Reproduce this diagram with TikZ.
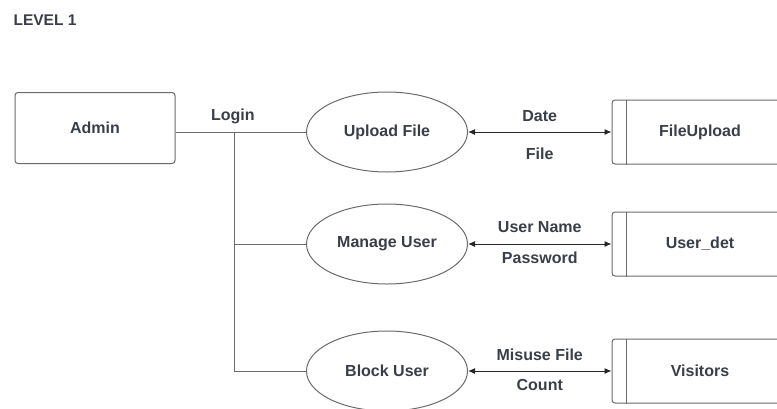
\documentclass[tikz,border=0pt]{standalone}
\usepackage{fontspec}
\setmainfont{Liberation Sans}
\usetikzlibrary{shapes.geometric,arrows.meta}
\definecolor{txtgray}{HTML}{3A3E47}
\definecolor{linegray}{HTML}{6A6A6A}

\begin{document}
\begin{tikzpicture}[
		x=1pt,y=-1pt,
		every node/.style={font=\bfseries\fontsize{16}{18}\selectfont,text=txtgray},
		entity/.style={rectangle,draw=linegray,line width=1pt,rounded corners=3pt,minimum width=160pt,minimum height=71pt},
		process/.style={ellipse,draw=linegray,line width=1pt,minimum width=161pt,minimum height=80pt,inner sep=0pt},
		store/.style={rectangle,draw=linegray,line width=1pt,rounded corners=3pt,minimum width=176pt,minimum height=64pt},
		wire/.style={draw=linegray,line width=1pt},
		flow/.style={draw=black!85,line width=1pt,{Latex[length=7pt,width=6pt]}-{Latex[length=7pt,width=6pt]}}
		]
		\clip (0,0) rectangle (777,408);
		\useasboundingbox (0,0) rectangle (777,408);
		
		\node[font=\bfseries\fontsize{15.5}{17}\selectfont] (title) at (45,20) {LEVEL 1};
		
		\node[entity] (admin) at (95,128) {Admin};
		
		\node[process] (up) at (387,132) {Upload File};
		\node[process] (mu) at (387,244) {Manage User};
		\node[process] (bu) at (387,371) {Block User};
		
		\node[store] (fu) at (700,132) {FileUpload};
		\node[store] (ud) at (700,244) {User\_det};
		\node[store] (vi) at (700,371) {Visitors};
		\foreach \s in {fu,ud,vi}
			\draw[wire] ([xshift=15pt]\s.north west) -- ([xshift=15pt]\s.south west);
		
		% admin to processes
		\coordinate (bus) at (234,132);
		\draw[wire] (admin.east |- up.west) -- node[pos=.44,above=4pt] {Login} (up.west);
		\draw[wire] (bus) |- (bu.west);
		\draw[wire] (bus |- mu.west) -- (mu.west);
		
		% processes to stores
		\draw[flow] (up.east) -- node[above=7pt] {Date} node[below=12pt] {File} (fu.west);
		\draw[flow] (mu.east) -- node[above=8pt] {User Name} node[below=4pt] {Password} (ud.west);
		\draw[flow] (bu.east) -- node[above=7pt] {Misuse File} node[below=4pt] {Count} (vi.west);
	\end{tikzpicture}
\end{document}
